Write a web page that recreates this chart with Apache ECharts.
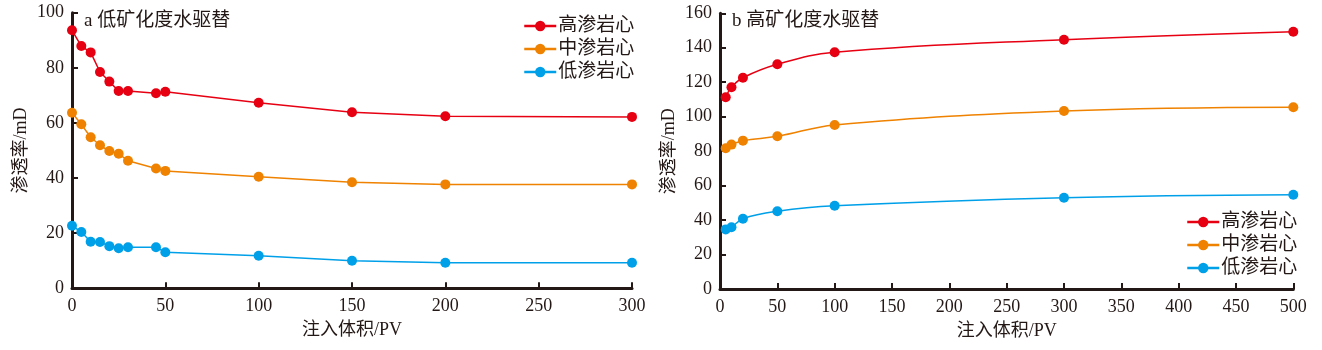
<!DOCTYPE html>
<html>
<head>
<meta charset="utf-8">
<script src="https://cdn.jsdelivr.net/npm/echarts@6/dist/echarts.min.js"></script>
<style>
  html, body { margin: 0; padding: 0; background: #fff; }
  #chart { width: 1322px; height: 350px; }
</style>
</head>
<body>
<div id="chart"></div>
<script>
// a 低矿化度水驱替
const pvA = [0, 5, 10, 15, 20, 25, 30, 45, 50, 100, 150, 200, 300]
const highA = [93.6, 87.9, 85.6, 78.5, 75.0, 71.6, 71.6, 70.8, 71.3, 67.3, 63.9, 62.4, 62.2]
const midA = [63.7, 59.5, 54.8, 51.9, 49.8, 48.8, 46.3, 43.5, 42.6, 40.5, 38.5, 37.7, 37.7]
const lowA = [22.7, 20.4, 16.9, 16.8, 15.3, 14.5, 14.9, 14.9, 13.1, 11.8, 10.0, 9.3, 9.3]

// b 高矿化度水驱替
const pvB = [5, 10, 20, 50, 100, 300, 500]
const highB = [111.3, 117.1, 122.6, 130.4, 137.4, 144.7, 149.3]
const midB = [81.7, 83.8, 86.1, 88.6, 95.2, 103.3, 105.5]
const lowB = [34.6, 35.8, 40.8, 45.1, 48.3, 53.0, 54.7]

const names = ['高渗岩心', '中渗岩心', '低渗岩心']
const colors = ['#e60012', '#ef8200', '#00a0e9']

const chart = echarts.init(document.getElementById('chart'))

const serif = '"Liberation Serif", "Noto Sans CJK SC", serif'
const ink = '#231815'

const pairs = (xs, ys) => xs.map((x, i) => [x, ys[i]])

// 坐标轴公共样式
const axisCommon = {
  axisLine: { show: true, lineStyle: { color: ink, width: 3 } },
  axisTick: { show: true, inside: true, length: 6, lineStyle: { color: ink, width: 2 } },
  axisLabel: { color: ink, fontFamily: serif, fontSize: 18 },
  splitLine: { show: false },
  nameTextStyle: { color: ink, fontFamily: serif, fontSize: 18 }
}

const makeSeries = (xs, ysList, idx, smooth) => ysList.map((ys, i) => ({
  name: names[i],
  type: 'line',
  xAxisIndex: idx,
  yAxisIndex: idx,
  data: pairs(xs, ys),
  smooth: smooth,
  symbol: 'circle',
  symbolSize: 10,
  showSymbol: true,
  lineStyle: { color: colors[i], width: 1.5 },
  itemStyle: { color: colors[i] }
}))

const legendCommon = {
  orient: 'vertical',
  data: names,
  itemWidth: 32,
  itemHeight: 13,
  itemGap: 3,
  lineStyle: { width: 2.5 },
  textStyle: { color: ink, fontFamily: serif, fontSize: 19, lineHeight: 20, padding: [0, 0, 0, -3] }
}

const titleStyle = { color: ink, fontFamily: serif, fontSize: 19, fontWeight: 'normal' }

const option = {
  animation: false,
  title: [
    { text: 'a 低矿化度水驱替', left: 84, top: 12, textStyle: titleStyle, padding: 0 },
    { text: 'b 高矿化度水驱替', left: 732, top: 12, textStyle: titleStyle, padding: 0 }
  ],
  legend: [
    Object.assign({ left: 518, top: 11 }, legendCommon),
    Object.assign({ left: 1181, top: 207 }, legendCommon)
  ],
  grid: [
    { left: 72, top: 12.7, width: 560, height: 275.6 },
    { left: 720, top: 13.3, width: 573.3, height: 275.7 }
  ],
  xAxis: [
    Object.assign({}, axisCommon, {
      type: 'value', gridIndex: 0, min: 0, max: 300, interval: 50,
      name: '注入体积/PV', nameLocation: 'middle', nameGap: 33,
      axisLabel: Object.assign({}, axisCommon.axisLabel, { margin: 9 })
    }),
    Object.assign({}, axisCommon, {
      type: 'value', gridIndex: 1, min: 0, max: 500, interval: 50,
      name: '注入体积/PV', nameLocation: 'middle', nameGap: 33,
      axisLabel: Object.assign({}, axisCommon.axisLabel, { margin: 9 })
    })
  ],
  yAxis: [
    Object.assign({}, axisCommon, {
      type: 'value', gridIndex: 0, min: 0, max: 100, interval: 20,
      name: '渗透率/mD', nameLocation: 'middle', nameGap: 42,
      axisLabel: Object.assign({}, axisCommon.axisLabel, { margin: 8 })
    }),
    Object.assign({}, axisCommon, {
      type: 'value', gridIndex: 1, min: 0, max: 160, interval: 20,
      name: '渗透率/mD', nameLocation: 'middle', nameGap: 42,
      axisLabel: Object.assign({}, axisCommon.axisLabel, { margin: 8 })
    })
  ],
  series: [
    ...makeSeries(pvA, [highA, midA, lowA], 0, false),
    ...makeSeries(pvB, [highB, midB, lowB], 1, 0.4)
  ]
}

chart.setOption(option)
</script>
</body>
</html>
